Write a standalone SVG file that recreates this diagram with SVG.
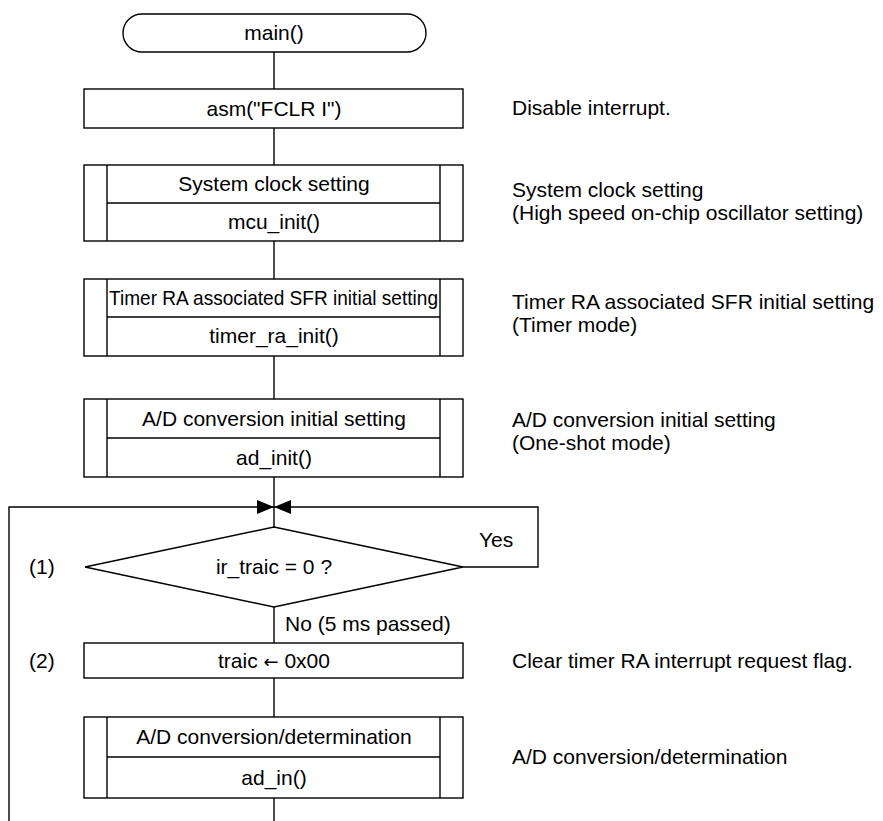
<svg xmlns="http://www.w3.org/2000/svg" width="883" height="821" viewBox="0 0 883 821">
<style>
.s{fill:#fff;stroke:#000;stroke-width:1.4}
.l{fill:none;stroke:#000;stroke-width:1.4}
text{font-family:"Liberation Sans",Arial,sans-serif;font-size:21px;fill:#000}
.c{text-anchor:middle}
.ar{font-family:"DejaVu Sans",sans-serif;font-size:18px}
</style>
<defs>
<marker id="ah" viewBox="0 0 17 14" refX="17" refY="7" markerWidth="17" markerHeight="14" markerUnits="userSpaceOnUse" orient="auto">
<path d="M0,0 L17,7 L0,14 Z" fill="#000"/>
</marker>
</defs>
<g id="connectors">
<line class="l" x1="274" y1="52" x2="274" y2="89"/>
<line class="l" x1="274" y1="128" x2="274" y2="165"/>
<line class="l" x1="274" y1="241" x2="274" y2="279"/>
<line class="l" x1="274" y1="356" x2="274" y2="399"/>
<line class="l" x1="274" y1="477" x2="274" y2="527"/>
<polyline class="l" points="463,567 538,567 538,507 274,507" marker-end="url(#ah)"/>
<polyline class="l" points="9,821 9,507 274,507" marker-end="url(#ah)"/>
<line class="l" x1="274" y1="607" x2="274" y2="643"/>
<line class="l" x1="274" y1="678" x2="274" y2="717"/>
<line class="l" x1="274" y1="798" x2="274" y2="821"/>
<text x="479" y="547">Yes</text>
<text x="285" y="631">No (5 ms passed)</text>
</g>
<g id="start">
<rect class="s" x="123" y="14" width="303" height="38" rx="19" ry="19"/>
<text class="c" x="274" y="40">main()</text>
</g>
<g id="fclr">
<rect class="s" x="84" y="89" width="379" height="39"/>
<text class="c" x="274" y="116">asm("FCLR I")</text>
<text x="512" y="115">Disable interrupt.</text>
</g>
<g id="mcu_init">
<rect class="s" x="84" y="165" width="379" height="76"/>
<line class="l" x1="107" y1="165" x2="107" y2="241"/>
<line class="l" x1="440" y1="165" x2="440" y2="241"/>
<line class="l" x1="107" y1="203" x2="440" y2="203"/>
<text class="c" x="274" y="191">System clock setting</text>
<text class="c" x="274" y="229">mcu_init()</text>
<text x="512" y="197">System clock setting</text>
<text x="512" y="220">(High speed on-chip oscillator setting)</text>
</g>
<g id="timer_ra_init">
<rect class="s" x="84" y="279" width="379" height="77"/>
<line class="l" x1="107" y1="279" x2="107" y2="356"/>
<line class="l" x1="440" y1="279" x2="440" y2="356"/>
<line class="l" x1="107" y1="317" x2="440" y2="317"/>
<text x="109" y="305" textLength="329" lengthAdjust="spacingAndGlyphs">Timer RA associated SFR initial setting</text>
<text class="c" x="274" y="343">timer_ra_init()</text>
<text x="512" y="309">Timer RA associated SFR initial setting</text>
<text x="512" y="332">(Timer mode)</text>
</g>
<g id="ad_init">
<rect class="s" x="84" y="399" width="379" height="78"/>
<line class="l" x1="107" y1="399" x2="107" y2="477"/>
<line class="l" x1="440" y1="399" x2="440" y2="477"/>
<line class="l" x1="107" y1="438" x2="440" y2="438"/>
<text class="c" x="274" y="426">A/D conversion initial setting</text>
<text class="c" x="274" y="465">ad_init()</text>
<text x="512" y="427">A/D conversion initial setting</text>
<text x="512" y="450">(One-shot mode)</text>
</g>
<g id="decision">
<polygon class="s" points="274,527 463,567 274,607 85,567"/>
<text class="c" x="274" y="574">ir_traic = 0 ?</text>
<text x="29" y="574">(1)</text>
</g>
<g id="clear_traic">
<rect class="s" x="84" y="643" width="379" height="35"/>
<text class="c" x="274" y="668">traic <tspan class="ar">←</tspan> 0x00</text>
<text x="29" y="668">(2)</text>
<text x="512" y="668">Clear timer RA interrupt request flag.</text>
</g>
<g id="ad_in">
<rect class="s" x="84" y="717" width="379" height="81"/>
<line class="l" x1="107" y1="717" x2="107" y2="798"/>
<line class="l" x1="440" y1="717" x2="440" y2="798"/>
<line class="l" x1="107" y1="757" x2="440" y2="757"/>
<text class="c" x="274" y="744">A/D conversion/determination</text>
<text class="c" x="274" y="785">ad_in()</text>
<text x="512" y="764">A/D conversion/determination</text>
</g>
</svg>
